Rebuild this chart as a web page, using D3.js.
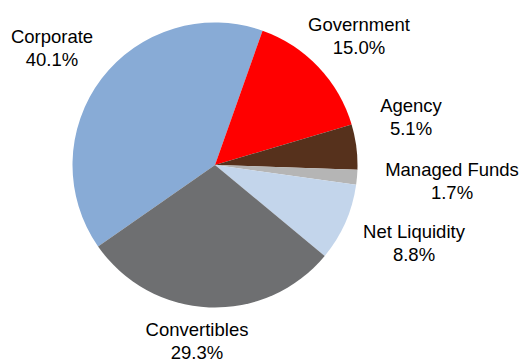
<!DOCTYPE html>
<html>
<head>
<meta charset="utf-8">
<script src="https://cdn.jsdelivr.net/npm/d3@7"></script>
<style>
  body { margin: 0; background: #fff; }
  text { font-family: "Liberation Sans", Arial, sans-serif; font-size: 18.5px; fill: #000; }
</style>
</head>
<body>
<div id="chart"></div>
<script>
const svgWidth = 522,
      svgHeight = 362,
      cx = 215, cy = 165, radius = 142.5;

// slices, in drawing order (clockwise from Corporate)
const categories = ["Corporate", "Government", "Agency", "Managed Funds", "Net Liquidity", "Convertibles"];
const values = [40.1, 15.0, 5.1, 1.7, 8.8, 29.3];
const colors = ["#88abd6", "#ff0000", "#56311c", "#b5b5b5", "#c3d5eb", "#6e6f71"];

// where Excel put each label (centre x, baseline of first line)
const labelPos = [[52, 43], [359, 31], [411, 112], [452, 176], [414, 238], [197, 336]];

// Government edge sits ~19.5deg right of 12 o'clock
const start = (19.5 - 360 * values[0] / 100) * Math.PI / 180;

const pie = d3.pie().sort(null).value(d => d.value)
    .startAngle(start).endAngle(start + 2 * Math.PI);
const arc = d3.arc().innerRadius(0).outerRadius(radius);

const data = categories.map((c, i) => ({name: c, value: values[i], color: colors[i]}));

let svg = d3.select("#chart")
  .append("svg")
  .attr("width", svgWidth)
  .attr("height", svgHeight);

svg.append("g")
    .attr("transform", "translate(" + cx + "," + cy + ")")
  .selectAll("path")
  .data(pie(data))
  .enter()
  .append("path")
    .attr("d", arc)
    .attr("fill", d => d.data.color);

let labels = svg.append("g")
  .selectAll("text")
  .data(data)
  .enter()
  .append("text")
    .attr("text-anchor", "middle")
    .attr("transform", (d, i) => "translate(" + labelPos[i][0] + "," + labelPos[i][1] + ")");

labels.append("tspan").attr("x", 0).attr("y", 0).text(d => d.name);
labels.append("tspan").attr("x", 0).attr("y", 23).text(d => d.value.toFixed(1) + "%");
</script>
</body>
</html>
